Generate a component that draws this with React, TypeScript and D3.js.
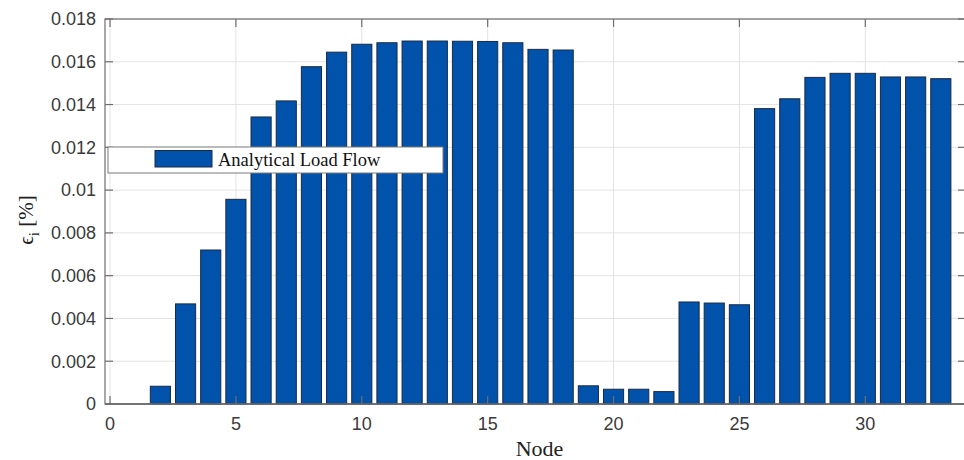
import React from "react";
import * as d3 from "d3";

// Relative error per node (analytical load flow)
const nodes: number[] = Array.from({ length: 33 }, (_, i) => i + 1);
const errorValues: number[] = [
  0, 0.00083, 0.00468, 0.0072, 0.00957, 0.01342, 0.01417, 0.01577, 0.01645,
  0.01682, 0.01689, 0.01697, 0.01697, 0.01696, 0.01695, 0.01689, 0.01658,
  0.01655, 0.00085, 0.00069, 0.00069, 0.00058, 0.00477, 0.00472, 0.00464,
  0.01381, 0.01427, 0.01527, 0.01546, 0.01546, 0.01529, 0.01529, 0.01521,
];
const xTicks: number[] = [0, 5, 10, 15, 20, 25, 30];
const yTicks: number[] = [0, 0.002, 0.004, 0.006, 0.008, 0.01, 0.012, 0.014, 0.016, 0.018];
const seriesName = "Analytical Load Flow";
const xLabel = "Node";

const W = 964;
const H = 460;
const left = 105;
const right = 966;
const top = 19;
const bottom = 404;

const BAR_FILL = "#0052AA";
const AXIS = "#6e6e6e";
const GRID = "#e3e3e3";
const TICK_TEXT = "#3a3a3a";

export default function App() {
  const x = d3.scaleLinear().domain([-0.2, 34]).range([left, right]);
  const y = d3.scaleLinear().domain([0, 0.018]).range([bottom, top]);
  const bw = (x(1) - x(0)) * 0.8;
  const fmtY = (v: number) => (v === 0 ? "0" : d3.format("~g")(+v.toFixed(3)));

  return (
    <svg
      width={W}
      height={H}
      style={{ position: "absolute", left: 0, top: 0, background: "#fff" }}
    >
      {/* grid */}
      <g>
        {yTicks.map((t) => (
          <line key={"gy" + t} x1={left} x2={right} y1={y(t)} y2={y(t)} stroke={GRID} strokeWidth={1} />
        ))}
        {xTicks.map((t) => (
          <line key={"gx" + t} x1={x(t)} x2={x(t)} y1={top} y2={bottom} stroke={GRID} strokeWidth={1} />
        ))}
      </g>

      {/* bars */}
      <g>
        {nodes.map((n, i) =>
          errorValues[i] > 0 ? (
            <rect
              key={"b" + n}
              x={x(n) - bw / 2}
              y={y(errorValues[i])}
              width={bw}
              height={y(0) - y(errorValues[i])}
              fill={BAR_FILL}
              stroke="#1a2a45"
              strokeWidth={1}
            />
          ) : null
        )}
        <line x1={left} x2={right} y1={y(0)} y2={y(0)} stroke="#555" strokeWidth={1.5} />
      </g>

      {/* axes box with inward ticks */}
      <g fill="none" stroke={AXIS} strokeWidth={1.2}>
        <rect x={left} y={top} width={right - left} height={bottom - top} />
        {xTicks.map((t) => (
          <g key={"tx" + t}>
            <line x1={x(t)} x2={x(t)} y1={bottom} y2={bottom - 8} />
            <line x1={x(t)} x2={x(t)} y1={top} y2={top + 8} />
          </g>
        ))}
        {yTicks.map((t) => (
          <g key={"ty" + t}>
            <line x1={left} x2={left + 8} y1={y(t)} y2={y(t)} />
            <line x1={right} x2={right - 8} y1={y(t)} y2={y(t)} />
          </g>
        ))}
      </g>

      {/* tick labels */}
      <g fontFamily="'Liberation Sans', Arial, sans-serif" fontSize={18} fill={TICK_TEXT}>
        {yTicks.map((t) => (
          <text key={"ly" + t} x={left - 9} y={y(t)} dy="0.35em" textAnchor="end">
            {fmtY(t)}
          </text>
        ))}
        {xTicks.map((t) => (
          <text key={"lx" + t} x={x(t)} y={bottom + 26} textAnchor="middle">
            {t}
          </text>
        ))}
      </g>

      {/* axis titles */}
      <text
        x={x(17.06)}
        y={456}
        textAnchor="middle"
        fontFamily="'Liberation Serif', 'Times New Roman', serif"
        fontSize={22}
        fill="#222"
      >
        {xLabel}
      </text>
      <text
        transform={`translate(33, 220) rotate(-90)`}
        textAnchor="middle"
        fontFamily="'Liberation Serif', 'Times New Roman', serif"
        fontSize={21}
        fill="#222"
      >
        <tspan>ϵ</tspan>
        <tspan fontSize={15} dy={6}>i</tspan>
        <tspan dy={-6}> [%]</tspan>
      </text>

      {/* legend */}
      <g>
        <rect x={108} y={147} width={335} height={26} fill="#fff" stroke="#7a7a7a" strokeWidth={1} />
        <rect x={155} y={150.5} width={57} height={16.5} fill={BAR_FILL} stroke="#1a2a45" strokeWidth={1} />
        <text
          x={218}
          y={166}
          fontFamily="'Liberation Serif', 'Times New Roman', serif"
          fontSize={18.5}
          fill="#111"
        >
          {seriesName}
        </text>
      </g>
    </svg>
  );
}
